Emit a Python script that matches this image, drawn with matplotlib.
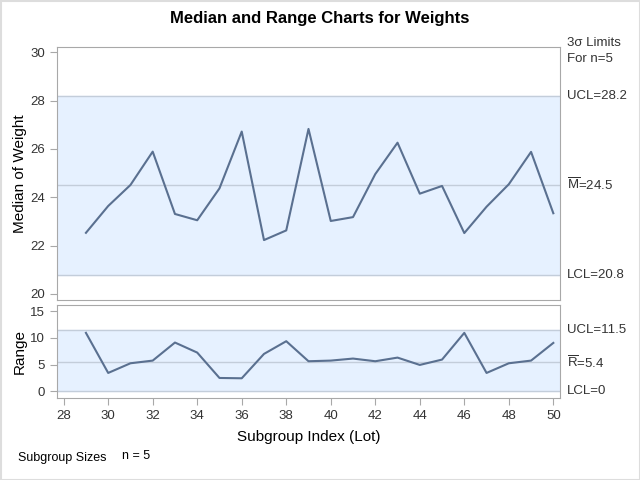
import matplotlib.pyplot as plt
from matplotlib.patches import Rectangle

plt.rcParams['font.family'] = ['Liberation Sans', 'DejaVu Sans']
plt.rcParams['mathtext.fontset'] = 'custom'
plt.rcParams['mathtext.rm'] = 'Liberation Sans'

lots = list(range(29, 51))
medians = [22.53, 23.64, 24.51, 25.89, 23.31, 23.05, 24.37, 26.72, 22.23, 22.63, 26.83,
           23.02, 23.18, 24.96, 26.26, 24.15, 24.47, 22.52, 23.61, 24.54, 25.88, 23.34]
ranges = [10.94, 3.44, 5.25, 5.75, 9.13, 7.25, 2.5, 2.44, 7.0, 9.38, 5.63,
          5.75, 6.13, 5.63, 6.31, 4.94, 5.94, 10.94, 3.44, 5.25, 5.75, 9.06]

med_limits = {'lcl': 20.8, 'center': 24.5, 'ucl': 28.2}
rng_limits = {'lcl': 0.0, 'center': 5.4, 'ucl': 11.5}

line_col = '#5a7090'
fill_col = '#e6f1ff'
limit_col = '#c3cdda'
frame_col = '#a8a8a8'
txt_col = '#333333'

fig = plt.figure(figsize=(6.4, 4.8), dpi=100)
# thin light border round the whole image
fig.patches.append(Rectangle((0.5/640, 0.5/480), 639/640, 479/480, transform=fig.transFigure,
                             fill=False, edgecolor='#dddddd', lw=1.5))
ax1 = fig.add_axes([57/640, 1-300/480, 503/640, 253/480])
ax2 = fig.add_axes([57/640, 1-398/480, 503/640, 93.5/480])


def panel(ax, y, lim, ylim, yticks):
    ax.axhspan(lim['lcl'], lim['ucl'], color=fill_col, zorder=0)
    for v in lim.values():
        ax.axhline(v, color=limit_col, lw=1, zorder=1)
    ax.plot(lots, y, color=line_col, lw=1.5, zorder=3)
    ax.set_xlim(27.7, 50.3)
    ax.set_ylim(*ylim)
    ax.set_yticks(yticks)
    for s in ax.spines.values():
        s.set_color(frame_col)
    ax.tick_params(colors=frame_col, labelcolor=txt_col, labelsize=9.5, length=5)


panel(ax1, medians, med_limits, (19.75, 30.22), [20, 22, 24, 26, 28, 30])
panel(ax2, ranges, rng_limits, (-1.25, 16.25), [0, 5, 10, 15])
ax1.tick_params(axis='x', bottom=False, labelbottom=False)
ax2.set_xticks(range(28, 51, 2))

ax1.set_ylabel('Median of Weight', fontsize=11, color='black')
ax2.set_ylabel('Range', fontsize=11, color='black')
ax1.yaxis.set_label_coords(-0.06, 0.5)
ax2.yaxis.set_label_coords(-0.06, 0.5)
ax2.set_xlabel('Subgroup Index (Lot)', fontsize=11, color='black', labelpad=6)

fig.text(0.5, 1-19/480, 'Median and Range Charts for Weights', ha='center', va='center',
         fontsize=12, fontweight='bold')

rx = 567/640
fs = 9.5
fig.text(rx, 1-43/480, '3\u03c3 Limits', va='center', fontsize=fs, color=txt_col)
fig.text(rx, 1-59/480, 'For n=5', va='center', fontsize=fs, color=txt_col)


def right_label(ax, val, s):
    ax.annotate(s, xy=(1, val), xycoords=('axes fraction', 'data'),
                xytext=(5, 0), textcoords='offset points', va='center',
                fontsize=fs, color=txt_col, annotation_clip=False)


right_label(ax1, med_limits['ucl'], 'UCL=%.1f' % med_limits['ucl'])
right_label(ax1, med_limits['center'], r'$\overline{\mathrm{M}}$=%.1f' % med_limits['center'])
right_label(ax1, med_limits['lcl'], 'LCL=%.1f' % med_limits['lcl'])
right_label(ax2, rng_limits['ucl'], 'UCL=%.1f' % rng_limits['ucl'])
right_label(ax2, rng_limits['center'], r'$\overline{\mathrm{R}}$=%.1f' % rng_limits['center'])
right_label(ax2, rng_limits['lcl'], 'LCL=0')

fig.text(18/640, 1-458/480, 'Subgroup Sizes', va='center', fontsize=9, color='black')
fig.text(122/640, 1-456/480, 'n = 5', va='center', fontsize=9, color='black')

fig.savefig('out.png', dpi=100)
